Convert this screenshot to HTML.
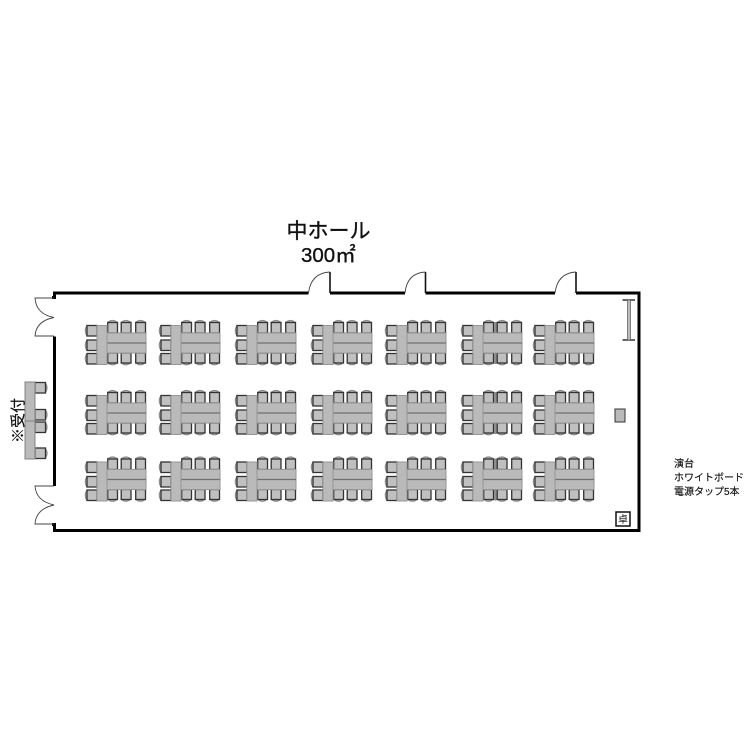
<!DOCTYPE html>
<html lang="ja">
<head>
<meta charset="utf-8">
<title>中ホール</title>
<style>
html,body{margin:0;padding:0;background:#fff;}
svg{display:block;}
text{font-family:"Liberation Sans","Noto Sans CJK JP",sans-serif;fill:#111;}
</style>
</head>
<body>
<svg width="750" height="750" viewBox="0 0 750 750" xmlns="http://www.w3.org/2000/svg">
<defs>
  <!-- top chair: back up -->
  <g id="ct">
    <path d="M0.5 2.5 Q5.5 -1.5 10.5 2.5" fill="#c0c0c0" stroke="#8c8c8c" stroke-width="1.2"/>
    <rect x="0.7" y="2.5" width="9.8" height="10.5" fill="#c0c0c0" stroke="#333" stroke-width="1.3"/>
  </g>
  <!-- bottom chair: back down -->
  <g id="cb">
    <path d="M0.5 9.5 Q5.5 14 10.5 9.5" fill="#c0c0c0" stroke="#8c8c8c" stroke-width="1.2"/>
    <rect x="0.7" y="0" width="9.8" height="10" fill="#c0c0c0" stroke="#333" stroke-width="1.3"/>
  </g>
  <!-- left chair: back to the left -->
  <g id="cl">
    <path d="M2.5 0 Q-1 5.2 2.5 10.5" fill="#c0c0c0" stroke="#8c8c8c" stroke-width="1.2"/>
    <rect x="2.5" y="0" width="10" height="10.5" fill="#c0c0c0" stroke="#333" stroke-width="1.3"/>
  </g>
  <!-- right chair: back to the right -->
  <g id="cr">
    <path d="M10 0 Q14 5.2 10 10.5" fill="#c0c0c0" stroke="#8c8c8c" stroke-width="1.2"/>
    <rect x="0" y="0" width="10.5" height="10.5" fill="#c0c0c0" stroke="#333" stroke-width="1.3"/>
  </g>
  <g id="cluster">
    <use href="#ct" x="0" y="0"/>
    <use href="#ct" x="13.5" y="0"/>
    <use href="#ct" x="28" y="0"/>
    <use href="#cb" x="0" y="33"/>
    <use href="#cb" x="13.5" y="33"/>
    <use href="#cb" x="28" y="33"/>
    <use href="#cl" x="-22.5" y="5.5"/>
    <use href="#cl" x="-22.5" y="20"/>
    <use href="#cl" x="-22.5" y="33.5"/>
    <rect x="0" y="13" width="39" height="20" fill="#bababa" stroke="#969696" stroke-width="1"/>
    <line x1="0" y1="23" x2="39" y2="23" stroke="#707070" stroke-width="1.3"/>
    <rect x="-10" y="5.5" width="10" height="39" fill="#bababa" stroke="#969696" stroke-width="1"/>
  </g>
</defs>

<!-- Title -->
<text x="286.5" y="238" font-size="21" stroke="#111" stroke-width="0.35">中ホール</text>
<text x="301" y="262" font-size="20.5" stroke="#111" stroke-width="0.35">300㎡</text>

<!-- Walls -->
<g fill="none" stroke="#000" stroke-width="3">
  <path d="M52 297.5 H54.5 V293 H308.5"/>
  <path d="M330 293 H405"/>
  <path d="M425.5 293 H555"/>
  <path d="M576 293 H639 V530.5 H54.5 V524.5 H52"/>
  <path d="M54.5 336.5 V486"/>
</g>
<!-- hinge posts -->
<g stroke="#111" stroke-width="1.6" fill="none">
  <line x1="330" y1="272" x2="330" y2="293"/>
  <line x1="425.5" y1="272" x2="425.5" y2="293"/>
  <line x1="576" y1="272" x2="576" y2="293"/>
</g>
<!-- door arcs -->
<g stroke="#444" stroke-width="0.9" fill="none">
  <path d="M308.5 293 Q311 273 330 272"/>
  <path d="M405 293 Q407 273 425.5 272"/>
  <path d="M555 293 Q557.5 273 576 272"/>
  <path d="M54 298 H35 Q36 314 54 317.5 Q36 321 35 336 H54"/>
  <path d="M54 486 H35 Q36 501 54 505 Q36 509 35 524 H54"/>
</g>

<!-- Clusters: row 1 -->
<use href="#cluster" x="107" y="320"/>
<use href="#cluster" x="181" y="320"/>
<use href="#cluster" x="257" y="320"/>
<use href="#cluster" x="333" y="320"/>
<use href="#cluster" x="407" y="320"/>
<use href="#cluster" x="483" y="320"/>
<use href="#cluster" x="555" y="320"/>
<!-- row 2 -->
<use href="#cluster" x="107" y="390"/>
<use href="#cluster" x="181" y="390"/>
<use href="#cluster" x="257" y="390"/>
<use href="#cluster" x="333" y="390"/>
<use href="#cluster" x="407" y="390"/>
<use href="#cluster" x="483" y="390"/>
<use href="#cluster" x="555" y="390"/>
<!-- row 3 -->
<use href="#cluster" x="107" y="456.5"/>
<use href="#cluster" x="181" y="456.5"/>
<use href="#cluster" x="257" y="456.5"/>
<use href="#cluster" x="333" y="456.5"/>
<use href="#cluster" x="407" y="456.5"/>
<use href="#cluster" x="483" y="456.5"/>
<use href="#cluster" x="555" y="456.5"/>

<!-- darker bars in column 6 -->
<g fill="#8e8e8e">
  <rect x="494" y="322" width="2.5" height="11"/>
  <rect x="494" y="353" width="2.5" height="11"/>
  <rect x="494" y="392" width="2.5" height="11"/>
  <rect x="494" y="423" width="2.5" height="11"/>
  <rect x="494" y="458.5" width="2.5" height="11"/>
  <rect x="494" y="489.5" width="2.5" height="11"/>
</g>

<!-- Reception -->
<use href="#cr" x="35" y="382.5"/>
<use href="#cr" x="35" y="409.5"/>
<use href="#cr" x="35" y="422"/>
<use href="#cr" x="35" y="448"/>
<rect x="25" y="382" width="10" height="39" fill="#bababa" stroke="#808080" stroke-width="1"/>
<rect x="25" y="421" width="10" height="38" fill="#bababa" stroke="#808080" stroke-width="1"/>
<text transform="translate(23 443) rotate(-90)" font-size="15" stroke="#111" stroke-width="0.2">※受付</text>

<!-- Whiteboard -->
<line x1="622.5" y1="300" x2="635" y2="300" stroke="#333" stroke-width="1.5"/>
<line x1="622.5" y1="340" x2="635" y2="340" stroke="#333" stroke-width="1.5"/>
<rect x="627.5" y="300" width="3" height="40" fill="#bcbcbc" stroke="#555" stroke-width="0.7"/>

<!-- Lectern -->
<rect x="615" y="409" width="10" height="13" fill="#bababa" stroke="#333" stroke-width="1"/>

<!-- Desk -->
<rect x="616" y="512" width="14" height="14" fill="#fff" stroke="#111" stroke-width="1.5"/>
<text x="618" y="523" font-size="10">卓</text>

<!-- Notes -->
<text x="674" y="467" font-size="10" stroke="#111" stroke-width="0.15">演台</text>
<text x="674" y="481" font-size="10" stroke="#111" stroke-width="0.15">ホワイトボード</text>
<text x="674" y="495" font-size="10" stroke="#111" stroke-width="0.15">電源タップ5本</text>
</svg>
</body>
</html>
